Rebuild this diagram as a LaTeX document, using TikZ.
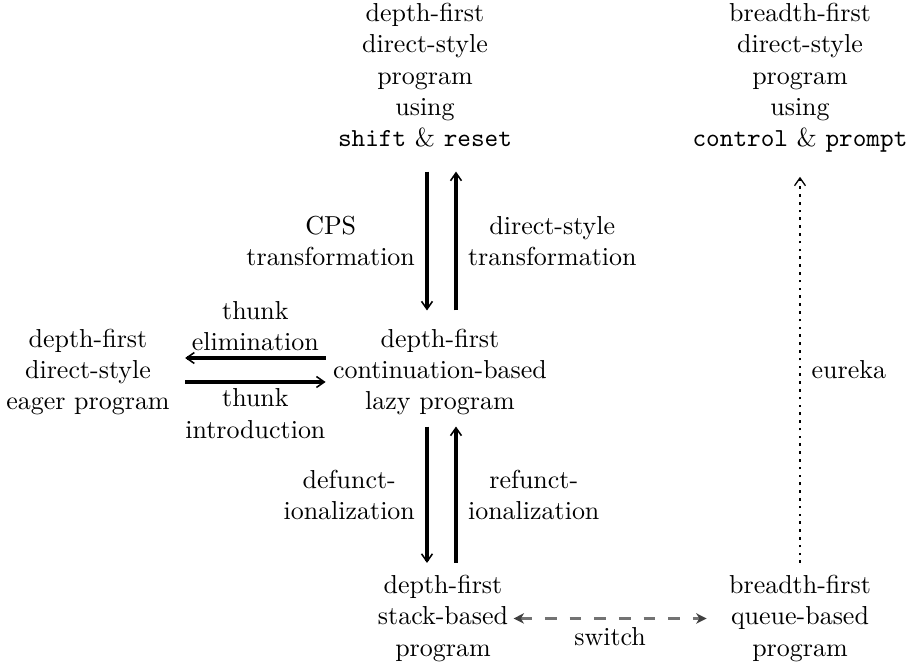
\documentclass[tikz,border=0pt]{standalone}
\usetikzlibrary{arrows.meta,calc}
\begin{document}
\begin{tikzpicture}[x=0.385pt,y=-0.385pt,
  lbl/.style={align=center, inner sep=0pt},
  arr/.style={line width=1.3pt, -{Straight Barb[length=3pt,width=4.2pt,line width=0.6pt]}},
  dotarr/.style={line width=1pt, dotted, -{Straight Barb[length=3pt,width=4.2pt,line width=0.5pt]}},
  dasharr/.style={line width=0.8pt, black!55, dash pattern=on 4.5pt off 5pt,
    {Stealth[length=4pt,width=4pt,inset=1.2pt,black!75]}-{Stealth[length=4pt,width=4pt,inset=1.2pt,black!75]}},
  edgelbl/.style={align=center, inner sep=4pt}]
\useasboundingbox (0,0) rectangle (907,664);

\node[lbl, anchor=north] (dsr) at (425,3) {depth-first\\direct-style\\program\\using\\\texttt{shift} \& \texttt{reset}};
\node[lbl, anchor=north] (bsr) at (800,3) {breadth-first\\direct-style\\program\\using\\\texttt{control} \& \texttt{prompt}};
\node[lbl] (cont) at (440,372) {depth-first\\continuation-based\\lazy program};
\node[lbl] (eager) at (88,372) {depth-first\\direct-style\\eager program};
\node[lbl, anchor=south] (stack) at (443,662) {depth-first\\stack-based\\program};
\node[lbl, anchor=south] (queue) at (800,662) {breadth-first\\queue-based\\program};

% CPS / direct-style
\draw[arr] ($(dsr.south)+(2,24)$) -- node[edgelbl, left] {CPS\\transformation} ($(cont.north)+(-13,-18)$);
\draw[arr] ($(cont.north)+(16,-18)$) -- node[edgelbl, right] {direct-style\\transformation} ($(dsr.south)+(31,24)$);

% thunks
\draw[arr] ($(cont.west)+(-7,-14)$) -- node[edgelbl, above, inner sep=2pt] {thunk\\elimination} ($(eager.east)+(15,-14)$);
\draw[arr] ($(eager.east)+(15,10)$) -- node[edgelbl, below, inner sep=2pt] {thunk\\introduction} ($(cont.west)+(-7,10)$);

% defunctionalization
\draw[arr] ($(cont.south)+(-13,11)$) -- node[edgelbl, left] {defunct-\\ionalization} ($(stack.north)+(-16,-12)$);
\draw[arr] ($(stack.north)+(13,-12)$) -- node[edgelbl, right] {refunct-\\ionalization} ($(cont.south)+(16,11)$);

% eureka
\draw[dotarr] ($(queue.north)+(0,-12)$) -- node[edgelbl, right] {eureka} ($(bsr.south)+(0,24)$);

% switch
\draw[dasharr] ($(stack.east)+(5,0)$) -- node[edgelbl, below, text=black, inner sep=3pt] {switch} ($(queue.west)+(-22,0)$);
\end{tikzpicture}
\end{document}
